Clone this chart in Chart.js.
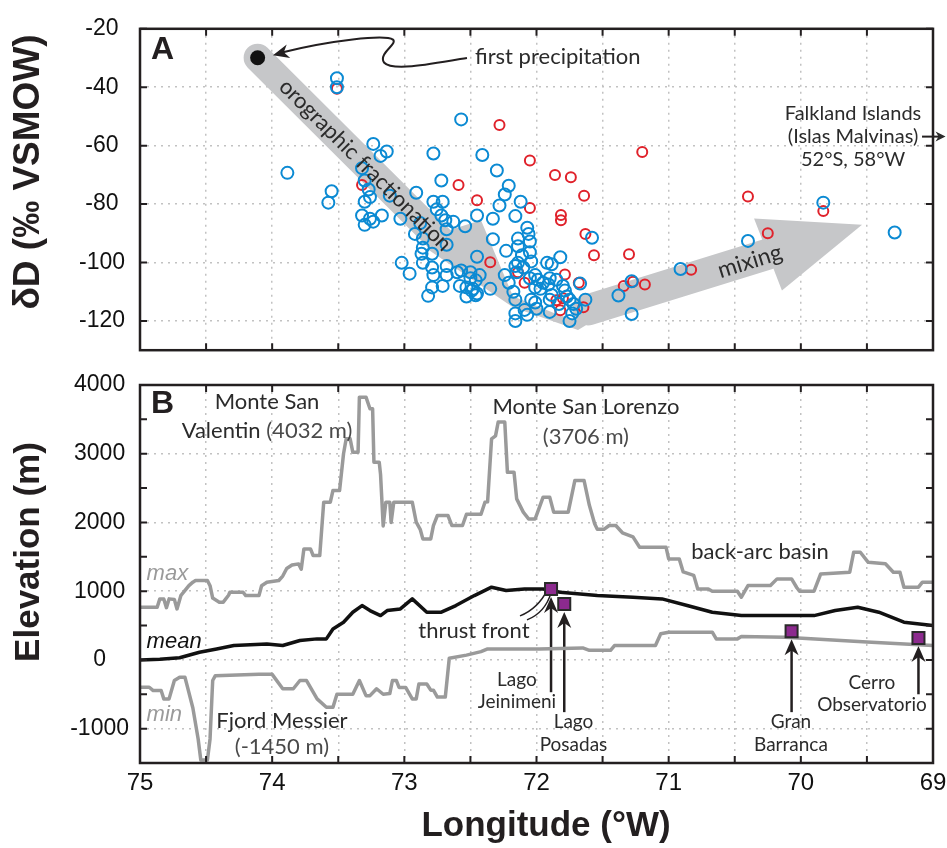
<!DOCTYPE html>
<html lang="en">
<head>
<meta charset="utf-8">
<title>Isotopes and topography across Patagonia</title>
<script src="https://cdn.jsdelivr.net/npm/chart.js@4.4.1/dist/chart.umd.min.js"></script>
<style>
  html, body { margin: 0; padding: 0; background: #fff; }
  #page { position: relative; width: 947px; height: 848px; overflow: hidden; }
  #isoChart { position: absolute; left: 0; top: 0; }
  #elevChart { position: absolute; left: 0; top: 360px; }
</style>
</head>
<body>
<div id="page">
  <canvas id="isoChart" width="947" height="379"></canvas>
  <canvas id="elevChart" width="947" height="488"></canvas>
</div>
<script>
// ================== Data ==================
// Panel A: deltaD of waters (blue and red samples), longitude in degrees W
const blueLon = [73.885, 73.55, 73.575, 73.51, 73.51, 73.235, 73.133, 73.18, 73.32, 73.30,
  73.27, 73.26, 73.30, 73.32, 73.26, 73.30, 73.235, 73.17, 73.03, 73.11,
  72.91, 72.78, 72.72, 72.78, 72.71, 72.755, 72.72, 72.69, 72.63, 72.54,
  72.45, 72.68, 72.88, 72.92, 72.86, 72.86, 72.87, 72.79, 72.68, 73.02,
  72.96, 72.86, 72.79, 72.78, 72.68, 72.68, 72.60, 72.57, 72.50, 72.45,
  72.50, 72.71, 72.79, 72.82, 72.58, 72.53, 72.49, 72.53, 72.45, 72.57,
  72.41, 72.30, 72.21, 72.24, 72.28, 72.12, 72.33, 72.16, 72.33, 72.23,
  72.14, 72.35, 72.16, 72.16, 72.09, 72.46, 72.46, 72.07, 72.06, 72.05,
  72.14, 72.05, 72.11, 72.14, 72.16, 72.10, 72.04, 72.15, 71.92, 71.885,
  71.82, 71.58, 72.43, 72.48, 72.21, 72.24, 72.175, 72.16, 72.07, 72.04,
  72.01, 72.05, 72.01, 71.99, 71.95, 72.01, 71.97, 72.00, 71.91, 71.90,
  71.85, 71.885, 71.90, 71.90, 71.83, 71.80, 71.785, 71.77, 71.75, 71.72,
  71.73, 71.75, 71.67, 71.63, 71.70, 71.28, 71.28, 71.38, 70.91, 70.40,
  69.83, 69.29];
const blueDD = [-69.3, -75.6, -79.5, -36.9, -40.0, -59.4, -62.0, -63.5, -67.7, -71.9,
  -75.0, -77.6, -79.2, -83.9, -85.0, -87.1, -86.0, -83.9, -85.0, -77.1,
  -76.1, -62.7, -71.9, -79.2, -79.2, -81.8, -83.9, -85.5, -86.0, -87.6,
  -83.9, -88.6, -86.5, -90.2, -91.8, -94.9, -97.0, -97.0, -93.9, -100.1,
  -103.8, -100.1, -101.7, -104.3, -101.2, -104.3, -103.3, -102.7, -103.3, -98.0,
  -105.4, -108.0, -108.5, -111.4, -108.0, -108.5, -109.6, -111.6, -110.6, -51.0,
  -63.2, -68.5, -73.7, -76.7, -80.5, -79.2, -85.0, -84.1, -92.0, -96.0,
  -91.8, -109.0, -120.0, -117.4, -116.2, -106.1, -111.2, -88.1, -90.2, -92.8,
  -94.4, -96.5, -97.5, -100.1, -101.2, -101.7, -99.6, -103.3, -100.1, -100.6,
  -98.2, -91.5, -104.3, -109.0, -106.9, -104.3, -110.0, -112.7, -117.9, -112.7,
  -113.7, -105.4, -104.3, -105.9, -106.9, -108.5, -109.0, -115.8, -107.5, -105.4,
  -105.9, -111.1, -112.7, -116.9, -114.2, -108.0, -109.6, -111.6, -112.7, -114.2,
  -117.4, -120.0, -107.2, -112.7, -115.8, -117.6, -106.4, -111.3, -102.2, -92.6,
  -79.5, -89.7];
const redLon = [73.51, 73.32, 72.59, 72.45, 72.28, 72.35, 72.05, 71.86, 71.74, 71.64,
  71.815, 71.815, 71.63, 71.565, 71.30, 72.14, 72.09, 71.785, 71.68, 71.85,
  71.80, 71.82, 71.645, 71.34, 71.27, 71.18, 71.20, 72.05, 70.83, 70.40,
  69.83, 70.25];
const redDD = [-40.5, -73.5, -73.5, -78.7, -52.9, -99.9, -81.3, -70.0, -70.8, -77.1,
  -83.7, -85.5, -90.2, -97.5, -97.2, -103.3, -106.9, -104.1, -106.9, -112.9,
  -112.2, -116.3, -115.3, -108.0, -106.6, -107.5, -62.2, -65.1, -102.5, -77.4,
  -82.4, -90.0];
const firstLon = [74.11];
const firstDD = [-29.9];

// Panel B: swath profile of elevation (m)
const maxLon = [75.00, 74.87, 74.85, 74.82, 74.80, 74.78, 74.74, 74.72, 74.69, 74.67,
  74.63, 74.60, 74.58, 74.49, 74.47, 74.45, 74.40, 74.37, 74.33, 74.32,
  74.22, 74.20, 74.10, 74.08, 74.04, 73.95, 73.92, 73.89, 73.85, 73.80,
  73.78, 73.76, 73.71, 73.69, 73.64, 73.61, 73.56, 73.54, 73.49, 73.46,
  73.44, 73.41, 73.39, 73.35, 73.34, 73.29, 73.26, 73.24, 73.23, 73.19,
  73.18, 73.16, 73.14, 73.11, 73.10, 73.08, 72.94, 72.91, 72.88, 72.86,
  72.80, 72.78, 72.75, 72.67, 72.64, 72.56, 72.53, 72.42, 72.39, 72.37,
  72.34, 72.31, 72.29, 72.24, 72.22, 72.17, 72.15, 72.10, 72.06, 72.01,
  71.95, 71.90, 71.87, 71.76, 71.71, 71.64, 71.60, 71.56, 71.54, 71.49,
  71.45, 71.40, 71.35, 71.27, 71.22, 71.02, 71.00, 70.92, 70.89, 70.81,
  70.78, 70.70, 70.67, 70.48, 70.45, 70.40, 70.23, 70.18, 70.07, 70.03,
  70.01, 69.90, 69.85, 69.63, 69.60, 69.55, 69.49, 69.36, 69.30, 69.25,
  69.22, 69.11, 69.08, 69.00];
const maxElev = [767, 767, 888, 888, 760, 888, 880, 742, 940, 985,
  1080, 1131, 1155, 1155, 1080, 900, 840, 840, 940, 985,
  985, 936, 936, 1080, 1131, 1155, 1220, 1330, 1380, 1397,
  1320, 1615, 1615, 1519, 1519, 2295, 2295, 2465, 2465, 3000,
  3217, 3217, 3023, 3023, 3823, 3823, 3654, 3654, 2877, 2877,
  2700, 1950, 2295, 2295, 2000, 2295, 2295, 2004, 1900, 1761,
  1761, 1955, 2101, 2101, 1955, 1955, 2120, 2120, 2295, 2300,
  3217, 3260, 3460, 3460, 2730, 2730, 2343, 2150, 2052, 2052,
  2368, 2368, 2150, 2150, 2610, 2610, 2250, 1980, 1900, 1900,
  1955, 1955, 1850, 1790, 1640, 1640, 1470, 1470, 1280, 1230,
  1033, 1033, 1000, 1000, 912, 1082, 1082, 1179, 1179, 1050,
  1000, 1000, 1250, 1276, 1567, 1567, 1420, 1400, 1276, 1276,
  1058, 1058, 1131, 1131];
const meanLon = [75.00, 74.85, 74.70, 74.55, 74.42, 74.29, 74.04, 73.92, 73.79, 73.66,
  73.59, 73.54, 73.46, 73.39, 73.32, 73.26, 73.18, 73.13, 73.03, 72.94,
  72.83, 72.72, 72.61, 72.47, 72.34, 72.23, 72.09, 71.95, 71.82, 71.54,
  71.27, 71.05, 70.86, 70.67, 70.45, 70.18, 69.90, 69.74, 69.57, 69.41,
  69.22, 69.00];
const meanElev = [0, 10, 32, 112, 160, 209, 233, 209, 282, 306,
  306, 451, 548, 694, 791, 718, 645, 718, 742, 888,
  694, 694, 791, 936, 1058, 1009, 1033, 1033, 985, 936,
  912, 888, 791, 694, 645, 645, 645, 718, 767, 694,
  548, 500];
const minLon = [75.00, 74.93, 74.90, 74.84, 74.82, 74.78, 74.74, 74.70, 74.66, 74.64,
  74.60, 74.56, 74.54, 74.49, 74.47, 74.45, 74.43, 74.10, 74.00, 73.92,
  73.84, 73.79, 73.74, 73.66, 73.59, 73.54, 73.51, 73.39, 73.34, 73.29,
  73.26, 73.21, 73.16, 73.11, 73.09, 73.06, 73.04, 72.99, 72.94, 72.91,
  72.89, 72.83, 72.80, 72.78, 72.75, 72.69, 72.66, 72.53, 72.42, 72.37,
  71.98, 71.65, 71.60, 71.44, 71.41, 71.10, 71.06, 71.00, 70.67, 70.64,
  70.48, 70.45, 70.12, 69.50, 69.00];
const minElev = [-398, -398, -446, -446, -567, -567, -300, -252, -252, -400,
  -700, -1150, -1455, -1455, -1150, -300, -230, -210, -210, -420,
  -420, -300, -300, -567, -690, -690, -500, -500, -300, -520,
  -520, -420, -500, -490, -300, -300, -400, -400, -567, -567,
  -350, -350, -440, -440, -540, -540, 24, 70, 120, 160,
  160, 175, 140, 140, 209, 209, 380, 403, 403, 306,
  306, 340, 330, 260, 209];
const siteNames = ["Lago Jeinimeni", "Lago Posadas", "Gran Barranca", "Cerro Observatorio"];
const siteLon = [71.89, 71.79, 70.07, 69.11];
const siteElev = [1033, 815, 417, 320];
const siteArrowFrom = [-470, -760, -760, -500];

// Tick labels
const lonTicks = [75, 74, 73, 72, 71, 70, 69];
const dDTicks = [-20, -40, -60, -80, -100, -120];
const elevTicks = [4000, 3000, 2000, 1000, 0, -1000];

// ================== Styles ==================
const SANS = "'Liberation Sans', Arial, sans-serif";
const HUMAN = "Lato, 'Open Sans', sans-serif";
const INK = "#231f20";
const TXT = "#2b2b2b";
const BLUE = "#0b8ad3";
const RED = "#e0222b";
const ARROW_GREY = "#c6c7c9";
const LINE_GREY = "#9a9a9a";
const PURPLE = "#8c2a8e";
const GRID = "#c2c2c2";

Chart.defaults.font.family = SANS;
Chart.defaults.color = "#111";

const pts = (xs, ys) => xs.map((x, i) => ({ x: x, y: ys[i] }));

// pixel helper for a chart
function toPx(chart) {
    const { x, y } = chart.scales;
    return (lon, v) => [x.getPixelForValue(lon), y.getPixelForValue(v)];
}

function fillPoly(ctx, list) {
    ctx.beginPath();
    ctx.moveTo(list[0][0], list[0][1]);
    list.slice(1).forEach((p) => ctx.lineTo(p[0], p[1]));
    ctx.closePath();
    ctx.fill();
}

function strokeLine(ctx, a, b) {
    ctx.beginPath();
    ctx.moveTo(a[0], a[1]);
    ctx.lineTo(b[0], b[1]);
    ctx.stroke();
}

// stealth-style arrow head at b, pointing from a
function arrowHead(ctx, a, b, len, half) {
    const ang = Math.atan2(b[1] - a[1], b[0] - a[0]);
    const c = Math.cos(ang), s = Math.sin(ang);
    const bx = b[0] - len * c, by = b[1] - len * s;
    ctx.beginPath();
    ctx.moveTo(b[0], b[1]);
    ctx.lineTo(bx - half * s, by + half * c);
    ctx.lineTo(b[0] - len * 0.7 * c, b[1] - len * 0.7 * s);
    ctx.lineTo(bx + half * s, by - half * c);
    ctx.closePath();
    ctx.fill();
}

function text(ctx, str, p, font, color, align) {
    ctx.font = font;
    ctx.fillStyle = color;
    ctx.textAlign = align || "center";
    ctx.textBaseline = "middle";
    ctx.fillText(str, p[0], p[1]);
}

// text made of differently coloured pieces, centred on p
function textParts(ctx, parts, p, font) {
    ctx.font = font;
    ctx.textBaseline = "middle";
    ctx.textAlign = "left";
    const total = parts.reduce((w, q) => w + ctx.measureText(q[0]).width, 0);
    let x = p[0] - total / 2;
    parts.forEach((q) => {
        ctx.fillStyle = q[1];
        ctx.fillText(q[0], x, p[1]);
        x += ctx.measureText(q[0]).width;
    });
}

function rotatedTitle(ctx, str, x, y, size) {
    ctx.save();
    ctx.translate(x, y);
    ctx.rotate(-Math.PI / 2);
    text(ctx, str, [0, 0], "bold " + size + "px " + SANS, INK);
    ctx.restore();
}

// ================== Frame with inward ticks ==================
const framePlugin = {
    id: "frame",
    afterDraw(chart, args, opts) {
        const { ctx, chartArea: a, scales: { x, y } } = chart;
        ctx.save();
        ctx.strokeStyle = INK;
        ctx.lineWidth = 2;
        ctx.beginPath();
        x.ticks.forEach((t) => {
            const p = x.getPixelForValue(t.value);
            ctx.moveTo(p, a.top); ctx.lineTo(p, a.top + 7);
            ctx.moveTo(p, a.bottom); ctx.lineTo(p, a.bottom - 7);
        });
        y.ticks.forEach((t) => {
            if (t.value % opts.yTick !== 0) return;
            const p = y.getPixelForValue(t.value);
            ctx.moveTo(a.left, p); ctx.lineTo(a.left + 7, p);
            ctx.moveTo(a.right, p); ctx.lineTo(a.right - 7, p);
        });
        ctx.stroke();
        ctx.lineWidth = 2.5;
        ctx.strokeRect(a.left, a.top, a.right - a.left, a.bottom - a.top);
        ctx.restore();
    }
};

function xScale(showLabels) {
    return {
        type: "linear", reverse: true, min: 69, max: 75,
        ticks: {
            display: showLabels, stepSize: 0.5, autoSkip: false, maxRotation: 0,
            padding: 6, font: { size: 24 }, color: "#111",
            callback: (v) => (lonTicks.includes(v) ? String(v) : "")
        },
        grid: { color: GRID, lineWidth: 1.5, drawTicks: false },
        border: { display: false, dash: [2, 5] },
        afterFit: (s) => {
            s.height = showLabels ? 85 : 0;
            // keep both panels the same width: no extra room for end labels
            s.paddingLeft = 0;
            s.paddingRight = 0;
        }
    };
}

function yScale(min, max, step, labels, gridEvery, pad) {
    return {
        type: "linear", min: min, max: max,
        ticks: {
            stepSize: step, autoSkip: false, crossAlign: "center", padding: pad,
            font: { size: 23 }, color: "#111",
            callback: (v) => (labels.includes(v) ? String(v) : "")
        },
        grid: {
            drawTicks: false, lineWidth: 1.5,
            color: (c) => (c.tick && c.tick.value % gridEvery === 0 ? GRID : "rgba(0,0,0,0)")
        },
        border: { display: false, dash: [2, 5] },
        afterFit: (s) => { s.width = 140; }
    };
}

// ================== Panel A decorations ==================
const fracHead = [[72.639, -88.6], [72.420, -85.5], [72.178, -111.5], [71.822, -118.1],
    [71.595, -120.6], [71.686, -123.1], [72.178, -115.3], [72.821, -95.5]];
const mixHead = [[70.354, -84.9], [69.537, -87.1], [70.143, -109.6]];

const isoDecor = {
    id: "isoDecor",
    beforeDatasetsDraw(chart) {
        const { ctx } = chart;
        const P = toPx(chart);
        ctx.save();
        ctx.fillStyle = ARROW_GREY;
        ctx.strokeStyle = ARROW_GREY;
        ctx.lineCap = "round";
        // orographic fractionation arrow
        ctx.lineWidth = 28;
        strokeLine(ctx, P(74.11, -29.9), P(72.73, -92.1));
        fillPoly(ctx, fracHead.map((p) => P(p[0], p[1])));
        // mixing arrow
        ctx.lineWidth = 31;
        strokeLine(ctx, P(71.61, -116.2), P(70.249, -97.1));
        fillPoly(ctx, mixHead.map((p) => P(p[0], p[1])));
        ctx.restore();
    },
    afterDatasetsDraw(chart) {
        const { ctx } = chart;
        const P = toPx(chart);
        ctx.save();
        // rotated labels on the grey arrows
        const a0 = P(74.11, -29.9), a1 = P(72.73, -92.1);
        let c = P(73.296, -66.67);
        ctx.save();
        ctx.translate(c[0], c[1]);
        ctx.rotate(Math.atan2(a1[1] - a0[1], a1[0] - a0[0]));
        text(ctx, "orographic fractionation", [0, 0], "22px " + HUMAN, TXT);
        ctx.restore();
        const m0 = P(71.61, -116.2), m1 = P(70.249, -97.1);
        c = P(70.385, -99.6);
        ctx.save();
        ctx.translate(c[0], c[1]);
        ctx.rotate(Math.atan2(m1[1] - m0[1], m1[0] - m0[0]));
        text(ctx, "mixing", [0, 0], "23px " + HUMAN, TXT);
        ctx.restore();

        // first precipitation with curly pointer
        text(ctx, "first precipitation", P(72.465, -29.5), "22px " + HUMAN, TXT, "left");
        const q = [[72.526, -29.96], [72.806, -32.16], [73.093, -34.67], [73.154, -31.53],
            [73.199, -28.39], [73.048, -25.25], [73.086, -23.69],
            [73.146, -21.80], [73.562, -24.00], [73.994, -29.02]].map((p) => P(p[0], p[1]));
        ctx.strokeStyle = INK;
        ctx.fillStyle = INK;
        ctx.lineWidth = 2;
        ctx.beginPath();
        ctx.moveTo(q[0][0], q[0][1]);
        ctx.bezierCurveTo(q[1][0], q[1][1], q[2][0], q[2][1], q[3][0], q[3][1]);
        ctx.bezierCurveTo(q[4][0], q[4][1], q[5][0], q[5][1], q[6][0], q[6][1]);
        ctx.bezierCurveTo(q[7][0], q[7][1], q[8][0], q[8][1], q[9][0] + 10, q[9][1] - 3);
        ctx.stroke();
        arrowHead(ctx, q[8], q[9], 16, 7);

        // Falkland Islands note
        const f = "20px " + HUMAN;
        text(ctx, "Falkland Islands", P(69.605, -49.1), f, TXT);
        text(ctx, "(Islas Malvinas)", P(69.605, -56.9), f, TXT);
        text(ctx, "52°S, 58°W", P(69.605, -64.8), f, TXT);
        const fa = P(69.083, -56.9), fb = P(68.905, -56.9);
        ctx.lineWidth = 2;
        strokeLine(ctx, fa, [fb[0] - 6, fb[1]]);
        arrowHead(ctx, fa, fb, 10, 5);

        // panel letter
        text(ctx, "A", P(74.83, -27.3), "bold 32px " + SANS, INK);
        ctx.restore();
    },
    afterDraw(chart) {
        rotatedTitle(chart.ctx, "δD (‰ VSMOW)", 29, 172, 37);
    }
};

// ================== Panel B decorations ==================
const elevDecor = {
    id: "elevDecor",
    beforeDatasetsDraw(chart) {
        const { ctx } = chart;
        const P = toPx(chart);
        ctx.save();
        ctx.strokeStyle = INK;
        ctx.fillStyle = INK;
        ctx.lineWidth = 2.5;
        siteLon.forEach((lon, i) => {
            const from = P(lon, siteArrowFrom[i]);
            const sq = P(lon, siteElev[i]);
            const tip = [sq[0], sq[1] + 8];
            strokeLine(ctx, from, [tip[0], tip[1] + 8]);
            arrowHead(ctx, from, tip, 16, 7);
        });
        // thrust front marks
        ctx.lineWidth = 1.5;
        const t1 = [[72.125, 640], [71.989, 742], [71.913, 1033]].map((p) => P(p[0], p[1]));
        const t2 = [[72.072, 582], [71.936, 684], [71.890, 975]].map((p) => P(p[0], p[1]));
        [t1, t2].forEach((t) => {
            ctx.beginPath();
            ctx.moveTo(t[0][0], t[0][1]);
            ctx.quadraticCurveTo(t[1][0], t[1][1], t[2][0], t[2][1]);
            ctx.stroke();
        });
        ctx.restore();
    },
    afterDatasetsDraw(chart) {
        const { ctx } = chart;
        const P = toPx(chart);
        ctx.save();
        const big = "22px " + HUMAN;
        const small = "19px " + HUMAN;
        text(ctx, "Monte San", P(74.039, 3755), big, TXT);
        textParts(ctx, [["Valentin ", TXT], ["(4032 m)", "#4a4a4a"]], P(74.039, 3333), big);
        text(ctx, "Monte San Lorenzo", P(71.626, 3683), big, TXT);
        text(ctx, "(3706 m)", P(71.626, 3246), big, "#4a4a4a");
        text(ctx, "back-arc basin", P(70.309, 1572), big, TXT);
        text(ctx, "Fjord Messier", P(73.926, -888), big, TXT);
        text(ctx, "(-1450 m)", P(73.926, -1266), big, "#4a4a4a");
        text(ctx, "thrust front", P(72.473, 422), big, TXT);

        text(ctx, "Lago", P(72.148, -291), small, TXT);
        text(ctx, "Jeinimeni", P(72.148, -611), small, TXT);
        text(ctx, "Lago", P(71.720, -902), small, TXT);
        text(ctx, "Posadas", P(71.720, -1237), small, TXT);
        text(ctx, "Gran", P(70.075, -902), small, TXT);
        text(ctx, "Barranca", P(70.075, -1237), small, TXT);
        text(ctx, "Cerro", P(69.462, -335), small, TXT);
        text(ctx, "Observatorio", P(69.462, -655), small, TXT);

        const it = "italic 22px " + SANS;
        text(ctx, "max", P(74.95, 1250), it, LINE_GREY, "left");
        text(ctx, "mean", P(74.95, 262), it, "#111", "left");
        text(ctx, "min", P(74.95, -796), it, LINE_GREY, "left");

        text(ctx, "B", P(74.83, 3715), "bold 32px " + SANS, INK);
        ctx.restore();
    },
    afterDraw(chart) {
        const { ctx } = chart;
        rotatedTitle(ctx, "Elevation (m)", 29, 192, 35);
        text(ctx, "Longitude (°W)", [546, 466], "bold 35px " + SANS, INK);
    }
};

// ================== Panel A chart ==================
new Chart(document.getElementById("isoChart"), {
    type: "scatter",
    data: {
        datasets: [
            {
                label: "first precipitation",
                data: pts(firstLon, firstDD),
                pointRadius: 7.5, borderWidth: 0,
                backgroundColor: "#111", borderColor: "#111"
            },
            {
                label: "samples (blue)",
                data: pts(blueLon, blueDD),
                pointRadius: 6, borderWidth: 2,
                borderColor: BLUE, backgroundColor: "rgba(0,0,0,0)"
            },
            {
                label: "samples (red)",
                data: pts(redLon, redDD),
                pointRadius: 5, borderWidth: 2,
                borderColor: RED, backgroundColor: "rgba(0,0,0,0)"
            }
        ]
    },
    options: {
        responsive: false, animation: false, events: [],
        layout: { padding: { top: 22, right: 14, bottom: 6, left: 0 } },
        plugins: { legend: { display: false }, tooltip: { enabled: false }, frame: { yTick: 20 } },
        scales: {
            x: xScale(false),
            y: yScale(-130, -20, 10, dDTicks, 20, 15)
        }
    },
    plugins: [isoDecor, framePlugin]
});

// ================== Panel B chart ==================
new Chart(document.getElementById("elevChart"), {
    type: "scatter",
    data: {
        datasets: [
            {
                label: "sites",
                data: pts(siteLon, siteElev),
                pointStyle: "rect", pointRadius: 8.5, borderWidth: 2,
                backgroundColor: PURPLE, borderColor: "#2a2a2a"
            },
            {
                label: "mean",
                data: pts(meanLon, meanElev),
                showLine: true, pointRadius: 0, borderWidth: 3.5,
                borderColor: "#111", borderJoinStyle: "round"
            },
            {
                label: "max",
                data: pts(maxLon, maxElev),
                showLine: true, pointRadius: 0, borderWidth: 3.5,
                borderColor: LINE_GREY, borderJoinStyle: "round"
            },
            {
                label: "min",
                data: pts(minLon, minElev),
                showLine: true, pointRadius: 0, borderWidth: 3.5,
                borderColor: LINE_GREY, borderJoinStyle: "round"
            }
        ]
    },
    options: {
        responsive: false, animation: false, events: [],
        layout: { padding: { top: 25, right: 14, bottom: 0, left: 0 } },
        plugins: { legend: { display: false }, tooltip: { enabled: false }, frame: { yTick: 500 } },
        scales: {
            x: xScale(true),
            y: yScale(-1500, 4000, 500, elevTicks, 1000, 11)
        }
    },
    plugins: [elevDecor, framePlugin]
});
</script>
</body>
</html>
